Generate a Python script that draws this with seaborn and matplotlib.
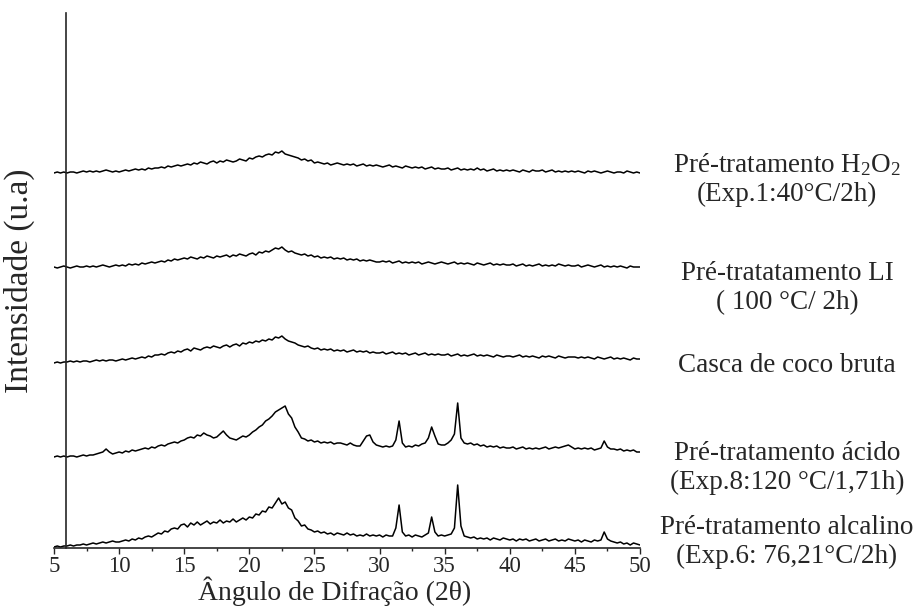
import numpy as np
import pandas as pd
import seaborn as sns
import matplotlib.pyplot as plt
from matplotlib.ticker import MultipleLocator

# angulo 2theta, passo de 0.25 entre 5 e 50
theta = np.linspace(5, 50, 181)

# intensidades (u.a), uma linha por intervalo de 5 graus
alcalino = [1, 2, 1, 2, 2, 3, 2, 3, 3, 4, 3, 4, 5, 4, 5, 6, 5, 6, 7, 6,
            6, 7, 8, 7, 9, 8, 10, 9, 11, 12, 11, 13, 15, 14, 17, 16, 19, 20, 19, 23,
            24, 21, 25, 23, 26, 23, 25, 27, 24, 26, 25, 28, 25, 27, 26, 29, 26, 28, 30, 28,
            31, 30, 34, 33, 37, 36, 41, 40, 45, 50, 44, 46, 40, 38, 30, 27, 22, 23, 19, 18,
            16, 17, 15, 16, 14, 15, 13, 15, 14, 13, 15, 13, 14, 12, 13, 12, 14, 12, 13, 12,
            13, 11, 13, 12, 12, 20, 43, 16, 12, 13, 11, 13, 12, 11, 13, 15, 31, 16, 12, 13,
            12, 13, 14, 20, 63, 22, 12, 11, 10, 11, 9, 10, 9, 10, 8, 10, 9, 8, 10, 9,
            8, 9, 7, 9, 8, 9, 7, 8, 9, 7, 8, 9, 7, 8, 9, 7, 8, 7, 9, 8,
            7, 8, 6, 8, 7, 6, 8, 7, 8, 16, 9, 7, 6, 5, 6, 4, 5, 3, 5, 4,
            3]

acido = [1, 2, 1, 2, 1, 2, 2, 1, 2, 3, 2, 3, 3, 4, 5, 6, 9, 6, 4, 5,
         6, 5, 7, 6, 8, 7, 8, 9, 10, 9, 11, 10, 12, 13, 12, 14, 15, 16, 15, 17,
         18, 20, 21, 20, 23, 22, 25, 23, 22, 20, 21, 24, 27, 23, 20, 19, 18, 20, 22, 21,
         23, 26, 28, 31, 33, 37, 39, 42, 46, 48, 50, 52, 44, 40, 31, 26, 20, 19, 17, 18,
         16, 17, 15, 16, 15, 16, 14, 15, 15, 14, 13, 15, 13, 12, 12, 17, 22, 23, 16, 13,
         12, 11, 12, 11, 12, 18, 37, 15, 11, 12, 11, 13, 12, 14, 15, 20, 31, 22, 14, 13,
         13, 15, 18, 24, 55, 20, 15, 14, 15, 13, 14, 12, 13, 11, 12, 11, 12, 10, 11, 10,
         10, 11, 9, 10, 11, 9, 10, 9, 10, 9, 10, 11, 9, 10, 11, 10, 11, 12, 13, 11,
         9, 10, 9, 10, 9, 10, 8, 9, 10, 17, 11, 9, 9, 8, 9, 7, 8, 7, 8, 6,
         6]

bruta = [0, 1, 0, 1, 1, 2, 1, 2, 1, 2, 2, 1, 2, 3, 2, 3, 2, 3, 3, 2,
         3, 4, 3, 4, 5, 4, 5, 6, 5, 7, 6, 8, 8, 9, 8, 10, 11, 10, 12, 11,
         13, 14, 12, 15, 14, 13, 15, 16, 15, 17, 16, 15, 17, 18, 16, 18, 19, 17, 20, 19,
         21, 20, 22, 21, 23, 22, 24, 23, 26, 25, 27, 24, 22, 21, 20, 18, 17, 16, 17, 15,
         14, 15, 13, 14, 13, 14, 12, 13, 12, 13, 11, 12, 13, 11, 12, 11, 12, 10, 11, 10,
         10, 11, 9, 10, 11, 9, 10, 9, 10, 8, 9, 10, 8, 9, 10, 8, 9, 8, 9, 8,
         8, 9, 7, 8, 9, 7, 8, 7, 8, 9, 7, 8, 7, 8, 7, 6, 8, 7, 6, 7,
         7, 6, 7, 8, 6, 7, 6, 7, 6, 5, 7, 6, 7, 6, 5, 7, 6, 5, 6, 6,
         6, 5, 6, 5, 6, 5, 4, 6, 5, 4, 5, 6, 4, 5, 4, 5, 4, 3, 5, 4,
         4]

li = [1, 0, 1, 2, 1, 0, 1, 2, 1, 1, 2, 1, 2, 1, 2, 3, 2, 1, 2, 3,
      2, 3, 2, 4, 3, 4, 3, 5, 4, 5, 6, 5, 6, 7, 6, 8, 7, 9, 8, 9,
      10, 9, 11, 10, 9, 11, 10, 12, 11, 10, 12, 11, 12, 13, 11, 13, 12, 14, 13, 12,
      14, 15, 13, 16, 15, 17, 16, 18, 20, 19, 21, 18, 16, 17, 15, 14, 13, 14, 12, 13,
      11, 12, 10, 11, 10, 11, 9, 10, 9, 10, 8, 9, 8, 9, 7, 8, 7, 8, 7, 6,
      6, 7, 6, 7, 5, 6, 7, 5, 6, 5, 6, 5, 6, 4, 5, 6, 5, 4, 5, 6,
      5, 4, 5, 6, 4, 5, 4, 5, 4, 3, 5, 4, 3, 4, 5, 3, 4, 3, 4, 3,
      3, 4, 2, 3, 4, 2, 3, 2, 3, 4, 2, 3, 2, 3, 2, 4, 3, 2, 3, 2,
      2, 3, 1, 2, 3, 2, 1, 2, 3, 1, 2, 1, 2, 1, 2, 1, 0, 2, 1, 1,
      1]

h2o2 = [0, 1, 0, 1, 0, 1, 1, 0, 1, 2, 1, 2, 1, 2, 1, 2, 3, 2, 1, 2,
        1, 2, 3, 2, 3, 4, 3, 4, 3, 5, 4, 5, 5, 6, 5, 7, 6, 7, 8, 7,
        8, 9, 8, 10, 9, 11, 10, 9, 11, 12, 10, 12, 11, 13, 12, 11, 12, 14, 13, 12,
        15, 14, 16, 17, 16, 18, 19, 18, 21, 20, 22, 19, 18, 17, 16, 15, 13, 14, 12, 13,
        10, 11, 10, 9, 10, 8, 9, 10, 9, 8, 9, 8, 9, 7, 8, 9, 7, 8, 7, 8,
        7, 6, 7, 8, 6, 7, 6, 5, 7, 6, 5, 6, 5, 6, 4, 5, 6, 4, 5, 4,
        4, 5, 3, 4, 5, 3, 4, 3, 4, 3, 5, 3, 4, 2, 3, 4, 2, 3, 2, 3,
        2, 3, 2, 1, 3, 2, 1, 3, 2, 2, 3, 1, 2, 3, 1, 2, 1, 2, 1, 2,
        1, 2, 1, 0, 2, 1, 2, 1, 0, 1, 2, 1, 0, 1, 1, 0, 2, 1, 0, 1,
        0]

amostras = ['alcalino', 'acido', 'bruta', 'li', 'h2o2']
deslocamento = [0, 90, 185, 280, 375]

rotulos = ['Pré-tratamento alcalino\n(Exp.6: 76,21°C/2h)',
           'Pré-tratamento ácido\n(Exp.8:120 °C/1,71h)',
           'Casca de coco bruta',
           'Pré-tratatamento LI\n( 100 °C/ 2h)',
           'Pré-tratamento H$_2$O$_2$\n(Exp.1:40°C/2h)']
rotulo_y = [542, 468, 366, 288, 179]

sns.set_style('ticks')
plt.rcParams['font.family'] = ['Liberation Serif', 'DejaVu Serif']
plt.rcParams['mathtext.fontset'] = 'custom'
plt.rcParams['mathtext.rm'] = 'Liberation Serif'
plt.rcParams['mathtext.default'] = 'regular'

df = pd.DataFrame({'theta': np.tile(theta, 5),
                   'amostra': np.repeat(amostras, len(theta))})
df['intensidade'] = np.concatenate([np.array(s) + d for s, d in
                                    zip([alcalino, acido, bruta, li, h2o2], deslocamento)])

fig = plt.figure(figsize=(9.2, 6.1), dpi=100)
ax = fig.add_axes([54 / 920, 1 - 548 / 610, 586 / 920, 535 / 610])

sns.lineplot(data=df, x='theta', y='intensidade', units='amostra', estimator=None,
             color='black', linewidth=1.1, ax=ax)

ax.set_xlim(5, 50)
ax.set_ylim(0, 535)
ax.xaxis.set_major_locator(MultipleLocator(5))
ax.xaxis.set_minor_locator(MultipleLocator(2.5))
ax.tick_params(axis='x', which='major', length=4, width=1, labelsize=16.5, pad=2, direction='out')
ax.tick_params(axis='x', which='minor', length=2.5, width=1)
ax.set_yticks([])
ax.spines['top'].set_visible(False)
ax.spines['right'].set_visible(False)
ax.spines['left'].set_position(('data', 5.92))
ax.spines['left'].set_linewidth(1.2)
ax.spines['bottom'].set_linewidth(1.2)

ax.set_xlabel('')
ax.set_ylabel('')
fig.text(335 / 920, 1 - 600 / 610, 'Ângulo de Difração (2θ)', fontsize=20,
         ha='center', va='baseline')
fig.text(19 / 920, 1 - 281 / 610, 'Intensidade (u.a)', fontsize=24,
         rotation=90, ha='center', va='center')

for r, yp in zip(rotulos, rotulo_y):
    fig.text(787 / 920, 1 - yp / 610, r, fontsize=19.5, ha='center', va='center',
             linespacing=1.22)

plt.savefig('out.png', dpi=100)
